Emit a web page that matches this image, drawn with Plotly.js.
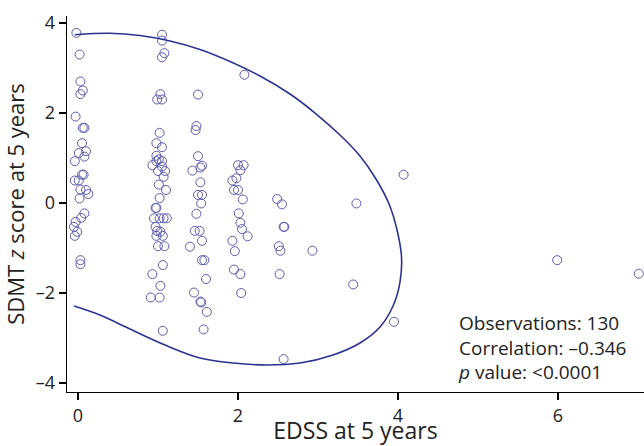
<!DOCTYPE html>
<html><head><meta charset="utf-8">
<script src="https://cdn.plot.ly/plotly-3.0.1.min.js"></script>
<style>html,body{margin:0;padding:0;background:#fff}#chart{width:644px;height:446px}</style>
</head><body><div id="chart"></div>
<script>
// EDSS (jittered as plotted) and SDMT z score, grouped by EDSS column
const edss0 = [-0.02,0.02,0.03,0.06,0.03,-0.03,0.06,0.08,0.05,0.10,0.01,0.08,-0.04,0.07,0.05,-0.04,0.01,0.03,0.10,0.13,0.02,0.08,0.04,-0.03,-0.05,-0.01,-0.04,0.03,0.03];
const sdmt0 = [3.78,3.30,2.70,2.50,2.42,1.92,1.67,1.67,1.33,1.15,1.11,1.03,0.93,0.63,0.63,0.50,0.50,0.30,0.29,0.20,0.10,-0.23,-0.33,-0.42,-0.53,-0.64,-0.73,-1.27,-1.36];
const edss1 = [1.05,1.05,1.08,1.05,1.03,0.99,1.05,1.02,0.98,1.05,0.98,1.01,0.98,1.05,0.93,1.05,1.00,1.09,1.07,1.01,1.10,1.02,0.97,0.98,0.95,1.02,1.07,1.11,0.97,0.99,1.03,0.98,1.06,1.00,1.08,1.06,0.93,1.03,0.91,1.02,1.06];
const sdmt1 = [3.74,3.61,3.33,3.24,2.42,2.30,2.30,1.56,1.33,1.24,1.05,0.97,0.93,0.93,0.84,0.81,0.71,0.71,0.58,0.41,0.29,0.11,-0.11,-0.11,-0.34,-0.34,-0.34,-0.34,-0.53,-0.62,-0.64,-0.73,-0.73,-0.96,-0.96,-1.38,-1.58,-1.84,-2.10,-2.10,-2.84];
const edss15 = [1.50,1.48,1.47,1.50,1.55,1.53,1.43,1.53,1.50,1.55,1.54,1.48,1.46,1.52,1.55,1.40,1.55,1.58,1.60,1.45,1.53,1.54,1.61,1.57];
const sdmt15 = [2.41,1.71,1.62,1.04,0.83,0.79,0.72,0.46,0.18,0.18,-0.01,-0.24,-0.62,-0.62,-0.84,-0.97,-1.27,-1.27,-1.69,-1.99,-2.19,-2.21,-2.42,-2.81];
const edss2 = [2.08,2.00,2.07,2.03,1.98,1.93,1.95,2.00,2.06,2.01,2.03,2.05,2.12,1.93,1.96,1.95,2.03,2.04];
const sdmt2 = [2.85,0.84,0.84,0.73,0.55,0.50,0.29,0.29,0.08,-0.23,-0.44,-0.58,-0.74,-0.84,-1.07,-1.48,-1.58,-2.00];
const edss25 = [2.49,2.55,2.57,2.58,2.51,2.53,2.52,2.57];
const sdmt25 = [0.09,-0.03,-0.53,-0.53,-0.96,-1.06,-1.58,-3.47];
const edssHigh = [2.93,3.48,3.44,3.95,4.07,5.99,7.01];
const sdmtHigh = [-1.06,-0.01,-1.81,-2.64,0.63,-1.27,-1.57];

// Confidence ellipse
const ellX = [-0.041,0.400,0.775,1.150,1.525,1.900,2.275,2.650,2.963,3.275,3.525,3.725,3.888,3.988,4.044,4.025,3.938,3.775,3.525,3.188,2.775,2.363,1.938,1.525,1.088,0.650,0.275,-0.050];
const ellY = [3.740,3.771,3.722,3.600,3.411,3.144,2.822,2.422,2.000,1.511,1.044,0.533,-0.022,-0.600,-1.200,-1.756,-2.289,-2.756,-3.111,-3.378,-3.556,-3.600,-3.556,-3.444,-3.156,-2.800,-2.489,-2.289];

const xTicks = [0,2,4,6];
const yTicks = [-4,-2,0,2,4];
const statLines = ['Observations: 130', 'Correlation: \u20130.346', '<i>p</i> value: &lt;0.0001'];

const xs = [].concat(edss0, edss1, edss15, edss2, edss25, edssHigh);
const ys = [].concat(sdmt0, sdmt1, sdmt15, sdmt2, sdmt25, sdmtHigh);

const traces = [
  {x: xs, y: ys, type: 'scatter', mode: 'markers', cliponaxis: false,
   marker: {symbol: 'circle-open', size: 9, color: '#5c5cab', line: {width: 1, color: '#5c5cab'}},
   hoverinfo: 'x+y'},
  {x: ellX, y: ellY, type: 'scatter', mode: 'lines',
   line: {color: '#2b3390', width: 1.6, shape: 'spline', smoothing: 1},
   hoverinfo: 'skip'}
];

const layout = {
  width: 644, height: 446,
  margin: {l: 67, r: 0, t: 16, b: 54},
  paper_bgcolor: '#ffffff', plot_bgcolor: '#ffffff',
  showlegend: false,
  font: {family: 'Open Sans, sans-serif', color: '#222', size: 16},
  xaxis: {
    range: [-0.1375, 7.075], tickvals: xTicks, ticktext: xTicks.map(String),
    showgrid: false, zeroline: false, showline: true, linecolor: '#000', linewidth: 1.3,
    ticks: 'outside', ticklen: 7, tickwidth: 1.3, tickcolor: '#000',
    tickfont: {size: 18, color: '#222'},
    title: {text: 'EDSS at 5 years', font: {size: 23, color: '#222'}, standoff: 0}
  },
  yaxis: {
    range: [-4.2, 4.156], tickvals: yTicks, ticktext: yTicks.map(v => v < 0 ? '\u2013' + Math.abs(v) : String(v)),
    showgrid: false, zeroline: false, showline: true, linecolor: '#000', linewidth: 1.3,
    ticks: 'outside', ticklen: 7, tickwidth: 1.3, tickcolor: '#000',
    tickfont: {size: 18, color: '#222'},
    title: {text: 'SDMT <i>z</i> score at 5 years', font: {size: 22, color: '#222'}, standoff: 6}
  },
  annotations: [{
    xref: 'paper', yref: 'paper', x: 0.674, y: 0.1184,
    xanchor: 'left', yanchor: 'middle', align: 'left', showarrow: false,
    text: statLines.join('<br>'), font: {size: 19, color: '#222'}
  }]
};

Plotly.newPlot('chart', traces, layout, {staticPlot: true});
</script></body></html>
